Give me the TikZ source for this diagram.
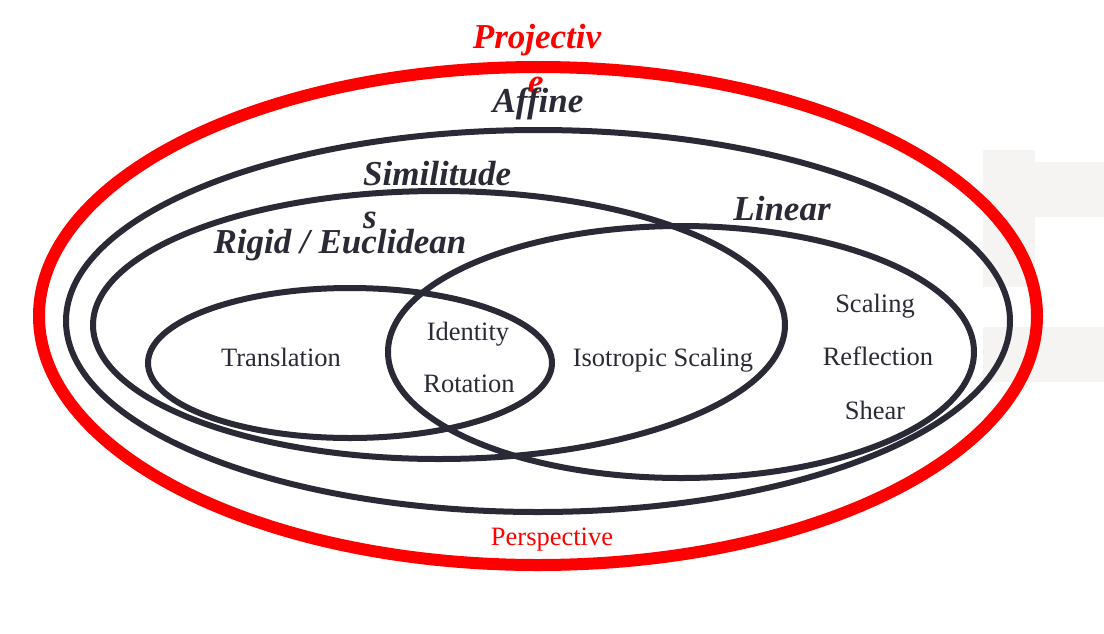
\documentclass[tikz,border=0pt]{standalone}
\usepackage{fontspec}
\setmainfont{Liberation Serif}
\definecolor{ink}{RGB}{42,42,54}
\definecolor{pred}{RGB}{255,0,0}
\definecolor{faint}{RGB}{245,244,242}
\tikzset{
  set/.style={draw=ink, line width=6pt},
  outerset/.style={draw=pred, line width=12pt},
  title/.style={inner sep=0pt, anchor=base, text=ink, font=\fontsize{35}{42}\selectfont\bfseries\itshape},
  redtitle/.style={title, text=pred},
  item/.style={inner sep=0pt, anchor=base, text=ink, font=\fontsize{26.5}{32}\selectfont},
  reditem/.style={item, text=pred}
}
\begin{document}
\begin{tikzpicture}[x=1pt,y=-1pt]
\useasboundingbox (0,0) rectangle (1104,633);
% faint background patches
\fill[faint] (983,150) rectangle (1035,287);
\fill[faint] (1035,162) rectangle (1104,217);
\fill[faint] (983,327) rectangle (1104,382);
% sets
\draw[outerset] (538,316) ellipse [x radius=499, y radius=249];
\draw[set] (538,321) ellipse [x radius=472, y radius=191];
\draw[set] (439,325) ellipse [x radius=346, y radius=134];
\draw[set] (681,352) ellipse [x radius=293, y radius=126];
\draw[set] (350,363) ellipse [x radius=202, y radius=75];
% titles
\node[redtitle] (proj1) at (537,48) {Projectiv};
\node[redtitle] (proj2) at (536,93) {e};
\node[title] (aff) at (538,112) {Affine};
\node[title, anchor=base west] (sim1) at (363,185) {Similitude};
\node[title, anchor=base west] (sim2) at (363,228) {s};
\node[title] (rig) at (340,253) {Rigid / Euclidean};
\node[title] (lin) at (782,220) {Linear};
% items
\node[item] (trans) at (281,366) {Translation};
\node[item] (ident) at (468,340) {Identity};
\node[item] (rot) at (469,392) {Rotation};
\node[item] (iso) at (663,366) {Isotropic Scaling};
\node[item] (scal) at (875,312) {Scaling};
\node[item] (refl) at (878,365) {Reflection};
\node[item] (shear) at (875,419) {Shear};
\node[reditem] (persp) at (552,545) {Perspective};
\end{tikzpicture}
\end{document}
